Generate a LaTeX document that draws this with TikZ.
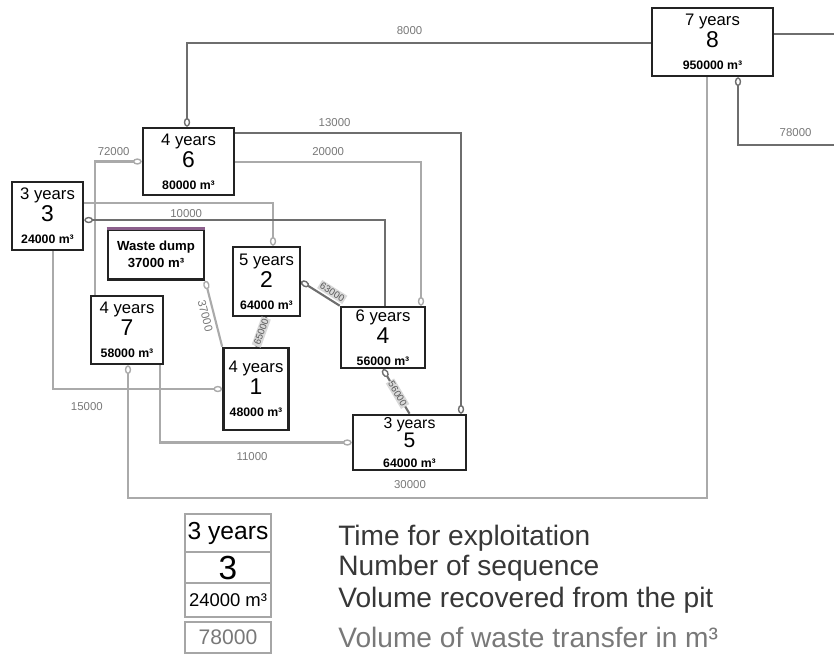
\documentclass[tikz,border=0pt]{standalone}
\usepackage{fontspec}
\setmainfont{Liberation Sans}
\usetikzlibrary{arrows.meta, positioning, calc}
\definecolor{lineDark}{RGB}{110,110,110}
\definecolor{lineLight}{RGB}{170,170,170}
\definecolor{boxEdge}{RGB}{35,35,35}
\definecolor{dumpEdge}{RGB}{140,95,140}
\definecolor{labelGrey}{RGB}{120,120,120}
\definecolor{legendText}{RGB}{55,55,55}
\newcommand{\pit}[3]{{\fontsize{9.5}{10}\selectfont #1}\\{\fontsize{13}{13}\selectfont #2}\\{\fontsize{7}{8}\selectfont\bfseries #3 m³}}
\tikzset{
    pitbox/.style={
        rectangle,
        draw=boxEdge,
        line width=1.5pt,
        fill=white,
        align=center,
        inner sep=0pt,
        font=\fontsize{9}{12.5}\selectfont
    },
    legbox/.style={
        rectangle,
        draw=gray!70,
        line width=1.1pt,
        align=center,
        inner sep=0pt,
        minimum width=1.72cm
    },
    flowline/.style={-{Ellipse[open, length=5pt, width=3.6pt, line width=0.8pt]}, line width=1.2pt, draw=lineDark},
    faintline/.style={-{Ellipse[open, length=5pt, width=3.6pt, line width=0.8pt]}, line width=1.2pt, draw=lineLight},
    hatchline/.style={-{Ellipse[open, length=5pt, width=3.6pt, line width=0.8pt]}, line width=1.2pt, draw=lineDark},
    flowlabel/.style={font=\fontsize{6.5}{7}\selectfont, text=labelGrey, inner sep=1pt},
    slopelabel/.style={sloped, fill=gray!30, font=\fontsize{5.5}{6}\selectfont, text=gray!70!black, inner sep=0.8pt},
    legtext/.style={anchor=west, font=\fontsize{16}{17}\selectfont, text=legendText, inner sep=0pt}
}
\begin{document}
\begin{tikzpicture}[x=0.02cm, y=-0.02cm]
    \useasboundingbox (0,0) rectangle (834,654);

    % pits
    \node[pitbox, minimum width=2.42cm, minimum height=1.36cm] (n8) at (712.5,42) {\pit{7 years}{8}{950000}};
    \node[pitbox, minimum width=1.82cm, minimum height=1.34cm] (n6) at (188.5,161.5) {\pit{4 years}{6}{80000}};
    \node[pitbox, minimum width=1.42cm, minimum height=1.36cm] (n3) at (47.5,216) {\pit{3 years}{3}{24000}};
    \node[pitbox, minimum width=1.92cm, minimum height=1.0cm, font=\fontsize{7.5}{10}\selectfont\bfseries] (nw) at (156,254.5) {Waste dump\\37000 m³};
    \draw[dumpEdge, line width=1.5pt] (nw.north west) -- (nw.north east);
    \node[pitbox, minimum width=1.34cm, minimum height=1.38cm] (n2) at (266.5,281.5) {\pit{5 years}{2}{64000}};
    \node[pitbox, minimum width=1.44cm, minimum height=1.36cm] (n7) at (127,330) {\pit{4 years}{7}{58000}};
    \node[pitbox, minimum width=1.30cm, minimum height=1.64cm] (n1) at (256,389) {\pit{4 years}{1}{48000}};
    \node[pitbox, minimum width=1.68cm, minimum height=1.22cm] (n4) at (383,337.5) {\pit{6 years}{4}{56000}};
    \node[pitbox, minimum width=2.26cm, minimum height=1.10cm, font=\fontsize{8.5}{11}\selectfont] (n5) at (409.5,442.5) {{\fontsize{9}{10}\selectfont 3 years}\\{\fontsize{12}{12}\selectfont 5}\\{\fontsize{7}{8}\selectfont\bfseries 64000 m³}};

    % waste transfers
    \draw[flowline] (n8.west |- 0,43) -| node[flowlabel, pos=0.26, above=3pt] {8000} (n6.north -| 187,0);
    \coordinate (edge8) at (834,34);
    \draw[flowline, -] (n8.east |- 0,34) -- (edge8);
    \coordinate (edge78) at (834,145);
    \draw[flowline] (edge78) -| node[flowlabel, pos=0.2, above=3pt] {78000} (n8.south -| 738,0);
    \coordinate (low) at (410,498);
    \draw[faintline] (n8.south -| 707,0) |- (low) node[flowlabel, above=4pt] {30000} -| (n7.south -| 128,0);
    \draw[flowline] (n6.east |- 0,133) -| node[flowlabel, pos=0.22, above=2pt] {13000} (n5.north -| 461,0);
    \draw[faintline] (n6.east |- 0,162) -| node[flowlabel, pos=0.25, above=2pt] {20000} (n4.north -| 421,0);
    \draw[faintline] (n7.north -| 95,0) |- node[flowlabel, pos=0.7, above=2pt] {72000} (n6.west);
    \draw[faintline] (n3.east |- 0,203) -| node[flowlabel, pos=0.27, below=2pt] {10000} (n2.north -| 273,0);
    \draw[flowline] (n4.north -| 385,0) |- (n3.east |- 0,220);
    \draw[faintline] (n3.south -| 53,0) |- node[flowlabel, pos=0.6, below=6pt] {15000} (n1.west);
    \draw[faintline] (n7.south -| 160,0) |- node[flowlabel, pos=0.74, below=4pt] {11000} (n5.west);
    \draw[faintline] (n1.north west) -- node[flowlabel, sloped, below=1pt] {37000} (nw.south east);
    \draw[hatchline] (n2.south) -- node[slopelabel] {65000} (n1.north);
    \draw[hatchline] (n4.north west) -- node[slopelabel, pos=0.3, above=1pt] {63000} (n2.east);
    \draw[hatchline] (n5.north) -- node[slopelabel, pos=0.45] {56000} (n4.south);

    % legend
    \node[legbox, minimum height=0.76cm, font=\fontsize{14}{15}\selectfont] (legyrs) at (228,533) {3 years};
    \node[legbox, minimum height=0.62cm, font=\fontsize{19}{20}\selectfont] (legnum) at (228,567.5) {3};
    \node[legbox, minimum height=0.68cm, font=\fontsize{10.5}{11}\selectfont] (legvol) at (228,600) {24000 m³};
    \node[legbox, minimum height=0.62cm, font=\fontsize{12}{13}\selectfont, text=labelGrey] (legwaste) at (228,637.5) {78000};
    \node[legtext] (txtyrs) at (338,538) {Time for exploitation};
    \node[legtext] (txtnum) at (338,568) {Number of sequence};
    \node[legtext] (txtvol) at (338,600) {Volume recovered from the pit};
    \node[legtext, text=labelGrey] (txtwaste) at (338,637) {Volume of waste transfer in m³};
\end{tikzpicture}
\end{document}
